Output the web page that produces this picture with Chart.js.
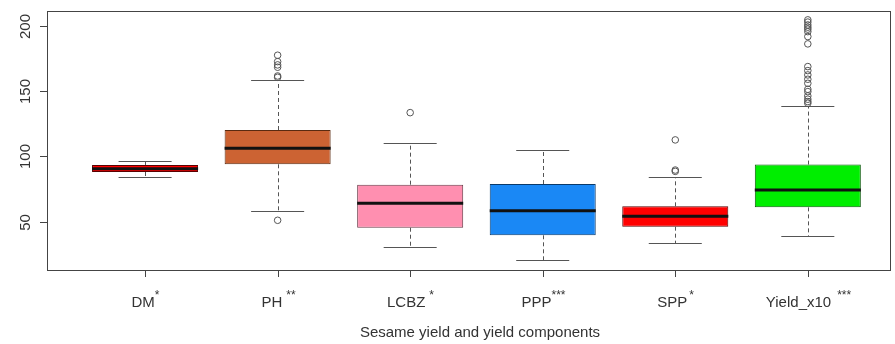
<!DOCTYPE html>
<html>
<head>
<meta charset="utf-8">
<script src="https://cdn.jsdelivr.net/npm/chart.js@4"></script>
<style>
  body { margin: 0; background: #fff; }
  canvas { display: block; }
</style>
</head>
<body>
<canvas id="boxChart" width="895" height="344"></canvas>
<script>
const categories = ['DM', 'PH', 'LCBZ', 'PPP', 'SPP', 'Yield_x10'];
const stars = ['*', '**', '*', '***', '*', '***'];
const starGap = [0, 4, 4, 0, 2, 6];
const lowerWhisker = [84.0, 58.2, 30.4, 20.6, 33.4, 39.0];
const q1 = [88.1, 94.0, 45.4, 39.6, 46.2, 61.0];
const median = [90.6, 106.3, 64.1, 58.4, 54.1, 74.3];
const q3 = [93.5, 120.3, 78.4, 78.9, 61.8, 93.8];
const upperWhisker = [96.8, 158.4, 110.6, 104.8, 84.3, 138.7];
const outliers = [
  [],
  [51.1, 160.7, 161.7, 168.4, 170.2, 172.7, 177.6],
  [133.6],
  [],
  [88.6, 89.6, 112.7],
  [140.8, 142.1, 143.9, 146.4, 149.7, 151.5, 156.1, 159.2, 162.5, 165.8, 168.9,
   186.3, 191.9, 195.7, 197.6, 199.1, 200.8, 203, 204.7]
];
const yTicks = [50, 100, 150, 200];

const fills = ['#ff0000', '#cc6333', '#ff8fb0', '#1a88f5', '#ff0000', '#00ee00'];
const borders = ['#5a0000', '#5a2a10', '#6a3a48', '#0a3a6a', '#5a0000', '#0a5a0a'];

const boxData = categories.map((c, i) => ({ x: i + 1, y: [q1[i], q3[i]] }));
const outlierData = [];
outliers.forEach((list, i) => list.forEach(v => outlierData.push({ x: i + 1, y: v })));

const labelFont = '15px "Liberation Sans", Arial, sans-serif';
const starFont = '12px "Liberation Sans", Arial, sans-serif';

const rPlot = {
  id: 'rPlot',
  afterDatasetsDraw(chart) {
    const ctx = chart.ctx;
    const xs = chart.scales.x, ys = chart.scales.y;
    ctx.save();
    categories.forEach((c, i) => {
      const cx = Math.round(xs.getPixelForValue(i + 1)) + 0.5;
      const capL = xs.getPixelForValue(i + 1 - 0.2);
      const capR = xs.getPixelForValue(i + 1 + 0.2);
      const yUp = Math.round(ys.getPixelForValue(upperWhisker[i])) + 0.5;
      const yLo = Math.round(ys.getPixelForValue(lowerWhisker[i])) + 0.5;
      ctx.strokeStyle = '#555';
      ctx.lineWidth = 1;
      ctx.setLineDash([4, 3]);
      ctx.beginPath();
      ctx.moveTo(cx, ys.getPixelForValue(q3[i]));
      ctx.lineTo(cx, yUp);
      ctx.moveTo(cx, ys.getPixelForValue(q1[i]));
      ctx.lineTo(cx, yLo);
      ctx.stroke();
      ctx.setLineDash([]);
      ctx.beginPath();
      ctx.moveTo(capL, yUp); ctx.lineTo(capR, yUp);
      ctx.moveTo(capL, yLo); ctx.lineTo(capR, yLo);
      ctx.stroke();
      // median
      const yMed = ys.getPixelForValue(median[i]);
      ctx.strokeStyle = '#111';
      ctx.lineWidth = 3;
      ctx.beginPath();
      ctx.moveTo(xs.getPixelForValue(i + 1 - 0.4), yMed);
      ctx.lineTo(xs.getPixelForValue(i + 1 + 0.4), yMed);
      ctx.stroke();
    });
    ctx.restore();
  },
  afterDraw(chart) {
    const ctx = chart.ctx;
    const xs = chart.scales.x, ys = chart.scales.y;
    const a = chart.chartArea;
    ctx.save();
    ctx.strokeStyle = '#444';
    ctx.lineWidth = 1;
    ctx.strokeRect(a.left + 0.5, a.top + 0.5, a.right - a.left, a.bottom - a.top);
    ctx.fillStyle = '#333';
    ctx.font = labelFont;
    // y ticks
    yTicks.forEach(v => {
      const y = Math.round(ys.getPixelForValue(v)) + 0.5;
      ctx.beginPath();
      ctx.moveTo(a.left - 7, y); ctx.lineTo(a.left, y);
      ctx.stroke();
      ctx.save();
      ctx.translate(a.left - 21, y);
      ctx.rotate(-Math.PI / 2);
      ctx.textAlign = 'center';
      ctx.textBaseline = 'middle';
      ctx.fillText(String(v), 0, 0);
      ctx.restore();
    });
    // x ticks and labels
    categories.forEach((c, i) => {
      const x = Math.round(xs.getPixelForValue(i + 1)) + 0.5;
      ctx.beginPath();
      ctx.moveTo(x, a.bottom); ctx.lineTo(x, a.bottom + 7);
      ctx.stroke();
      ctx.font = labelFont;
      const w1 = ctx.measureText(c).width;
      ctx.font = starFont;
      const w2 = ctx.measureText(stars[i]).width;
      const total = w1 + starGap[i] + w2;
      const left = x - total / 2;
      ctx.textAlign = 'left';
      ctx.textBaseline = 'alphabetic';
      ctx.font = labelFont;
      ctx.fillText(c, left, a.bottom + 37);
      ctx.font = starFont;
      ctx.fillText(stars[i], left + w1 + starGap[i], a.bottom + 29);
    });
    ctx.font = labelFont;
    ctx.textAlign = 'center';
    ctx.fillText('Sesame yield and yield components', 480, a.bottom + 67);
    ctx.restore();
  }
};

new Chart(document.getElementById('boxChart'), {
  type: 'bar',
  data: {
    datasets: [
      {
        type: 'bar',
        data: boxData,
        backgroundColor: fills,
        borderColor: borders,
        borderWidth: 1,
        borderSkipped: false,
        categoryPercentage: 0.8,
        barPercentage: 1.0,
        order: 2
      },
      {
        type: 'scatter',
        data: outlierData,
        pointStyle: 'circle',
        pointRadius: 3.3,
        pointBorderWidth: 1,
        pointBorderColor: '#555',
        pointBackgroundColor: 'rgba(255,255,255,0)',
        order: 1
      }
    ]
  },
  options: {
    responsive: false,
    devicePixelRatio: 1,
    animation: false,
    layout: { padding: { left: 47, top: 11, right: 1, bottom: 74 } },
    plugins: { legend: { display: false }, tooltip: { enabled: false } },
    scales: {
      x: {
        type: 'linear', min: 0.26, max: 6.62, display: false, offset: false,
        afterBuildTicks: (scale) => { scale.ticks = categories.map((c, i) => ({ value: i + 1 })); }
      },
      y: { type: 'linear', min: 13.0, max: 211.5, display: false }
    }
  },
  plugins: [rPlot]
});
</script>
</body>
</html>
